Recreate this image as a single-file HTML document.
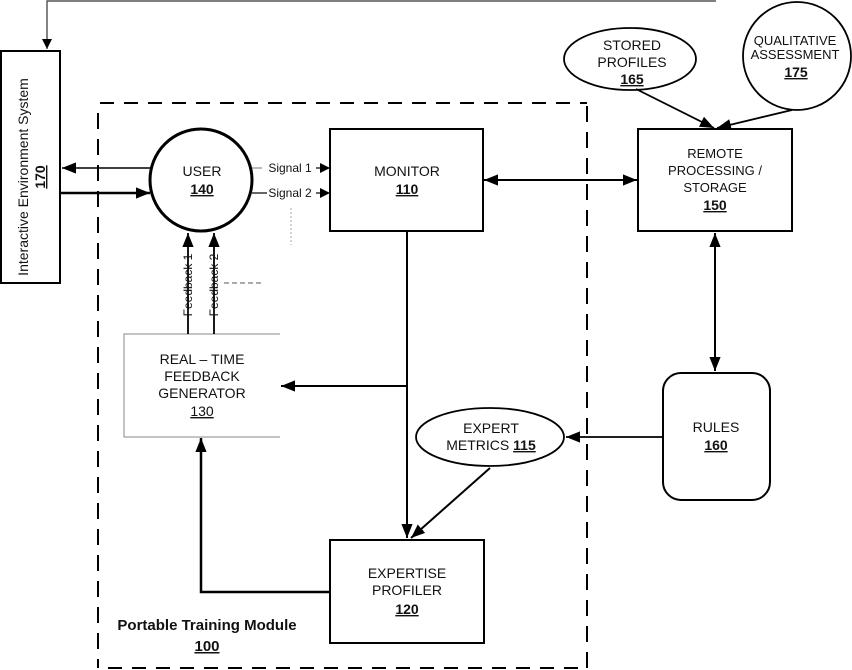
<!DOCTYPE html>
<html><head><meta charset="utf-8"><style>
html,body{margin:0;padding:0;background:#fff;}
svg{display:block;font-family:"Liberation Sans",Arial,sans-serif;}
text{fill:#111;}
</style></head><body>
<svg width="852" height="670" viewBox="0 0 852 670" xmlns="http://www.w3.org/2000/svg">
<defs>
<marker id="a" viewBox="0 0 10 10" refX="10" refY="5" markerWidth="10" markerHeight="10" markerUnits="userSpaceOnUse" orient="auto-start-reverse"><path d="M0,0 L10,5 L0,10 z" fill="#000"/></marker>
<marker id="b" viewBox="0 0 10 10" refX="10" refY="5" markerWidth="14" markerHeight="14" markerUnits="userSpaceOnUse" orient="auto-start-reverse"><path d="M0,1 L10,5 L0,9 z" fill="#000"/></marker>
</defs>
<g stroke="#000" fill="none">
<polyline points="716,1 47,1 47,49" stroke="#333" stroke-width="1.2" marker-end="url(#a)"/>
<rect x="1" y="51" width="59" height="232" stroke-width="2"/>
<line x1="100" y1="103" x2="587" y2="103" stroke-width="2" stroke-dasharray="14,10"/>
<line x1="98" y1="113" x2="98" y2="668" stroke-width="2" stroke-dasharray="16,10"/>
<line x1="587" y1="106" x2="587" y2="668" stroke-width="2" stroke-dasharray="16,10"/>
<line x1="108" y1="668" x2="587" y2="668" stroke-width="2" stroke-dasharray="14,10"/>
<circle cx="201" cy="180" r="51" stroke-width="3"/>
<line x1="150" y1="168" x2="62" y2="168" stroke-width="1.5" marker-end="url(#b)"/>
<line x1="61" y1="193" x2="150" y2="193" stroke-width="2.5" marker-end="url(#b)"/>
<line x1="252" y1="168" x2="262" y2="168" stroke-width="1" stroke="#777"/>
<line x1="252" y1="193" x2="267" y2="193" stroke-width="1.2"/>
<line x1="316" y1="168" x2="330" y2="168" stroke-width="1.2" marker-end="url(#a)"/>
<line x1="316" y1="193" x2="330" y2="193" stroke-width="1.2" marker-end="url(#a)"/>
<line x1="291" y1="208" x2="291" y2="245" stroke="#aaa" stroke-dasharray="2,2"/>
<rect x="330" y="129" width="153" height="102" stroke-width="2"/>
<line x1="484" y1="180" x2="637" y2="180" stroke-width="2" marker-start="url(#b)" marker-end="url(#b)"/>
<rect x="638" y="129" width="154" height="102" stroke-width="2"/>
<ellipse cx="630" cy="59" rx="66" ry="31" stroke-width="1.8"/>
<circle cx="797" cy="56" r="54" stroke-width="1.8"/>
<line x1="636" y1="89" x2="714" y2="128" stroke-width="1.8" marker-end="url(#b)"/>
<line x1="792" y1="110" x2="717" y2="128" stroke-width="1.8" marker-end="url(#b)"/>
<line x1="715" y1="233" x2="715" y2="371" stroke-width="2" marker-start="url(#b)" marker-end="url(#b)"/>
<rect x="663" y="373" width="107" height="127" rx="18" stroke-width="2"/>
<line x1="663" y1="437" x2="566" y2="437" stroke-width="1.8" marker-end="url(#b)"/>
<ellipse cx="490" cy="437" rx="74" ry="29" stroke-width="1.8"/>
<line x1="407" y1="231" x2="407" y2="538" stroke-width="2" marker-end="url(#b)"/>
<line x1="407" y1="386" x2="281" y2="386" stroke-width="2" marker-end="url(#b)"/>
<line x1="490" y1="468" x2="411" y2="538" stroke-width="2" marker-end="url(#b)"/>
<rect x="330" y="540" width="154" height="103" stroke-width="2"/>
<polyline points="330,592 201,592 201,438" stroke-width="2.5" marker-end="url(#b)"/>
<polyline points="280,334 124,334 124,437 280,437" stroke="#888" stroke-width="1"/>
<line x1="188" y1="334" x2="188" y2="233" stroke-width="1.8" marker-end="url(#b)"/>
<line x1="214" y1="334" x2="214" y2="233" stroke-width="1.8" marker-end="url(#b)"/>
<line x1="224" y1="283" x2="262" y2="283" stroke="#555" stroke-dasharray="5,3"/>
</g>
<g font-size="14" text-anchor="middle">
<text transform="translate(30,177) rotate(-90)" x="0" y="-2">Interactive Environment System</text>
<text transform="translate(30,177) rotate(-90)" x="0" y="15" font-weight="bold" text-decoration="underline">170</text>
<text x="202" y="176">USER</text>
<text x="202" y="194" font-weight="bold" text-decoration="underline">140</text>
<text x="290" y="172" font-size="12">Signal 1</text>
<text x="290" y="197" font-size="12">Signal 2</text>
<text x="407" y="176">MONITOR</text>
<text x="407" y="194" font-weight="bold" text-decoration="underline">110</text>
<text x="715" y="158" font-size="13">REMOTE</text>
<text x="715" y="175" font-size="13">PROCESSING /</text>
<text x="715" y="192" font-size="13">STORAGE</text>
<text x="715" y="210" font-weight="bold" text-decoration="underline">150</text>
<text x="632" y="50">STORED</text>
<text x="632" y="67">PROFILES</text>
<text x="632" y="84" font-weight="bold" text-decoration="underline">165</text>
<text x="795" y="45" font-size="13">QUALITATIVE</text>
<text x="795" y="59" font-size="13">ASSESSMENT</text>
<text x="796" y="77" font-weight="bold" text-decoration="underline">175</text>
<text x="716" y="432">RULES</text>
<text x="716" y="450" font-weight="bold" text-decoration="underline">160</text>
<text x="491" y="433">EXPERT</text>
<text x="491" y="450">METRICS <tspan font-weight="bold" text-decoration="underline">115</tspan></text>
<text x="202" y="364">REAL – TIME</text>
<text x="202" y="381">FEEDBACK</text>
<text x="202" y="398">GENERATOR</text>
<text x="202" y="416" text-decoration="underline">130</text>
<text x="407" y="578">EXPERTISE</text>
<text x="407" y="595">PROFILER</text>
<text x="407" y="614" font-weight="bold" text-decoration="underline">120</text>
<text transform="translate(192,285) rotate(-90)" font-size="12">Feedback 1</text>
<text transform="translate(218,285) rotate(-90)" font-size="12">Feedback 2</text>
<text x="207" y="630" font-size="15" font-weight="bold">Portable Training Module</text>
<text x="207" y="651" font-size="15" font-weight="bold" text-decoration="underline">100</text>
</g>
</svg>
</body></html>
